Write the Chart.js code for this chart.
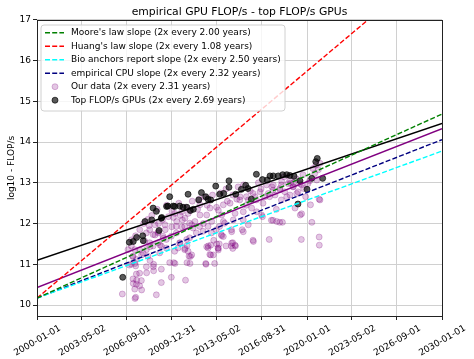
<!DOCTYPE html>
<html><head><meta charset="utf-8">
<script src="https://cdn.jsdelivr.net/npm/chart.js@4.4.0/dist/chart.umd.min.js"></script>
<style>html,body{margin:0;padding:0;background:#fff}#wrap{width:474px;height:359px}</style>
</head><body><div id="wrap"><canvas id="c" width="474" height="359"></canvas></div>
<script>
// ---------------- data ----------------
const titleText = 'empirical GPU FLOP/s - top FLOP/s GPUs';
const yAxisLabel = 'log10 - FLOP/s';
const xTickLabels = ['2000-01-01','2003-05-02','2006-09-01','2009-12-31','2013-05-02','2016-08-31','2020-01-01','2023-05-02','2026-09-01','2030-01-01'];
const yTickValues = [10, 11, 12, 13, 14, 15, 16, 17];
const yMin = 9.73, yMax = 17;

const fitYears   = [2000, 2030];
const mooreLine  = [10.17, 14.69];
const huangLine  = [10.17, 18.53];
const bioLine    = [10.17, 13.78];
const cpuLine    = [10.17, 14.06];
const ourFitLine = [10.43, 14.33];
const topFitLine = [11.10, 14.46];

const legendLabels = [
  "Moore's law slope (2x every 2.00 years)",
  "Huang's law slope (2x every 1.08 years)",
  "Bio anchors report slope (2x every 2.50 years)",
  "empirical CPU slope (2x every 2.32 years)",
  "Our data (2x every 2.31 years)",
  "Top FLOP/s GPUs (2x every 2.69 years)"
];

const ourYears = [
2006.32,2007.31,2008.84,2009.21,2009.95,2011.0,2007.36,2007.6,2007.24,2007.73,2007.11,2007.36,2007.6,2006.99,2007.31,2008.1,2008.64,2009.21,2008.64,2009.83,
2010.13,2011.11,2011.26,2011.19,2010.94,2011.11,2012.5,2013.16,2012.8,2012.67,2013.41,2013.09,2014.5,2014.7,2014.4,2014.0,2015.2,2016.0,2017.2,2019.58,
2020.9,2020.36,2019.5,2020.26,2020.9,2017.98,2018.18,2017.36,2017.48,2016.7,2017.73,2018.1,2018.5,2019.33,2019.9,2020.07,2020.57,2020.44,
2007.38,2007.13,2007.75,2007.26,2008.12,2008.62,2008.37,2010.22,2006.84,2007.26,2007.09,2007.75,2008.37,2009.11,2009.36,2010.59,2010.96,2011.09,2008.74,2008.99,
2013.68,2013.8,2013.31,2013.5,2012.87,2012.69,2012.87,2013.06,2012.52,2013.43,2014.42,2014.67,2014.5,2015.28,2016.03,2011.46,2011.33,2014.42,
2017.76,2019.6,2019.24,2018.99,2018.79,2018.13,2018.0,2017.5,2017.63,2018.74,2019.11,2020.72,2020.84,2020.96,
2016.27,2016.64,2015.9,2015.28,2014.67,2015.04,2015.65,2016.15,2016.52,2016.89,2017.13,2014.3,2013.8,2013.43,2012.81,2012.57,2012.07,2011.7,2012.32,2012.94,
2013.8,2015.28,2013.68,2014.54,2015.65,2011.46,2012.07,2011.33,
2009.73,2010.22,2010.72,2010.96,2010.35,2009.48,2009.98,2010.72,2008.74,
2007.61,2008.1,2008.35,2008.6,2008.97,2007.98,2008.35,2008.6,2008.97,2009.58,2009.33,2009.95,2010.32,2010.32,2010.77,2010.94,2011.31,2011.56,2012.05,2011.8,
2012.3,2011.31,2012.67,2012.92,2013.28,2013.53,2013.65,2013.9,2014.4,2007.61,2007.85,2008.1,2008.22,2009.09,2009.21,2009.58,2010.2,2010.45,2010.57,2007.11,
2007.36,2007.24,2006.99,2006.74,
2015.02,2015.51,2016.0,2016.25,2016.74,2017.23,2017.48,2017.98,2018.35,2018.6,2018.96,2019.46,2019.75,2018.72,2019.21,
2020.67,2020.96,2019.6,2020.91,2012.57,2013.43,2011.36,
2008.5,2008.9,2009.3,2009.6,2010.0,2010.5,2011.0,2011.5,2012.0,2012.4,2013.0,2013.6,2014.0,2014.5,2014.9,2015.3,2015.8,2016.4,2017.0,2018.3,
2019.7,2020.2,2007.9,2008.2,2007.3,2007.0,
2008.3,2009.0,2009.5,2010.1,2010.6,2011.2,2011.9,2012.6,2013.3,2014.1,2014.8,2015.5,2016.6,2017.4,2018.1,2019.0
];
const ourFlops = [
10.27,10.19,10.25,10.55,10.68,10.61,10.51,10.47,10.39,10.6,10.64,10.76,10.78,11.0,10.96,10.94,10.84,10.88,11.0,11.04,
11.04,11.04,11.2,11.32,11.36,11.46,11.02,11.02,11.24,11.4,11.4,11.59,11.53,11.45,11.45,11.45,11.85,11.59,11.61,11.61,
11.67,12.03,12.21,12.46,12.6,12.03,12.03,12.08,12.08,12.17,12.35,12.58,12.66,12.78,12.66,12.98,13.23,13.35,
10.61,10.53,10.37,10.16,10.79,10.94,11.09,11.02,10.98,11.02,11.19,11.23,11.43,11.47,11.64,11.52,11.39,11.61,11.72,11.8,
11.70,11.68,11.5,11.5,11.47,11.45,11.23,11.23,11.0,11.39,11.52,11.47,11.39,11.8,11.56,11.23,11.02,11.8,
12.05,12.95,12.74,12.91,12.99,13.03,12.83,12.95,12.7,12.7,12.38,13.07,13.32,13.48,
12.29,12.21,12.38,12.29,12.25,12.66,12.58,12.66,12.78,12.66,12.74,12.5,12.46,12.33,12.38,12.21,12.21,12.05,12.0,12.05,
12.05,12.09,12.21,12.09,11.97,11.97,12.46,12.33,
12.17,12.25,12.29,12.13,12.05,11.97,11.92,11.92,11.97,
11.85,11.77,11.85,11.73,11.77,11.57,11.53,11.45,11.53,11.61,11.69,11.69,11.77,11.93,12.09,11.93,12.01,11.89,11.93,11.77,
11.81,11.65,11.93,11.77,11.85,11.93,11.73,12.01,11.85,11.36,11.28,11.36,11.2,11.28,11.45,11.4,11.32,11.4,11.53,11.2,
11.12,11.36,11.45,11.36,
12.58,12.66,12.74,12.58,12.5,12.66,12.82,12.86,12.78,12.98,12.9,12.98,12.86,13.06,13.1,
13.44,12.58,12.24,11.47,11.43,11.35,11.19,
12.2,12.35,12.1,12.45,12.3,12.5,12.4,12.55,12.6,12.65,12.7,12.75,12.85,12.7,12.9,12.95,12.8,13.0,12.95,13.15,
13.2,13.05,12.0,12.1,11.7,11.6,
11.95,12.0,11.85,12.15,12.2,12.25,12.35,12.45,12.4,12.55,12.6,12.45,12.85,12.9,12.95,13.0
];

const topYears = [
2006.35,2006.84,2007.13,2007.38,2007.83,2007.87,2008.0,2008.5,2009.04,2009.21,2008.6,2008.84,2009.83,2009.7,2010.2,2010.57,2010.82,2011.1,2011.36,2011.19,
2011.98,2012.18,2012.5,2012.67,2012.87,2013.24,2013.53,2013.83,2014.22,2014.22,2014.72,2015.14,2015.46,2015.63,2015.88,2016.25,2016.7,2017.06,2017.26,2017.5,
2017.87,2018.2,2018.5,2018.74,2019.04,2019.48,2019.33,2020.0,2020.35,2020.65,2020.76,2021.16,2011.58,2009.24,2009.6,2010.1
];
const topFlops = [
10.68,11.54,11.56,11.66,11.70,11.58,12.05,12.09,11.83,12.13,12.38,12.30,12.66,12.43,12.42,12.43,12.40,12.40,12.32,12.72,
12.58,12.76,12.66,12.60,12.58,12.92,12.72,12.74,13.05,12.89,12.72,12.84,12.94,12.86,12.60,13.21,13.08,13.07,13.17,13.17,
13.17,13.20,13.20,13.18,13.16,13.05,12.48,12.84,13.11,13.52,13.60,13.11,12.35,12.15,12.42,12.43
];

// ---------------- helpers ----------------
function dateToYear(s){
  const [y,m,d] = s.split('-').map(Number);
  const t0 = Date.UTC(y,0,1), t1 = Date.UTC(y+1,0,1);
  return y + (Date.UTC(y,m-1,d) - t0) / (t1 - t0);
}
const xTickValues = xTickLabels.map(dateToYear);
const pts = (xs, ys) => xs.map((x,i)=>({x, y: ys[i]}));

const FONT = 'DejaVu Sans';
Chart.defaults.font.family = FONT;
Chart.defaults.color = '#000';

function lineDs(label, vals, color, dashed, inLegend){
  return {
    type:'line', label, data: pts(fitYears, vals), borderColor: color, backgroundColor: color,
    borderWidth: 1.4, borderDash: dashed ? [5,2.2] : [], pointRadius: 0, showLine: true,
    fill: false, order: 0, clip: 0, inLegend
  };
}

const datasets = [
  lineDs(legendLabels[0], mooreLine, 'green', true, true),
  lineDs(legendLabels[1], huangLine, 'red', true, true),
  lineDs(legendLabels[2], bioLine, 'cyan', true, true),
  lineDs(legendLabels[3], cpuLine, 'navy', true, true),
  lineDs('our fit', ourFitLine, 'purple', false, false),
  lineDs('top fit', topFitLine, 'black', false, false),
  { type:'scatter', label: legendLabels[4], data: pts(ourYears, ourFlops),
    backgroundColor:'rgba(128,0,128,0.22)', borderColor:'rgba(128,0,128,0.25)', borderWidth:1,
    pointRadius:3, order:3, inLegend:true, clip: 0 },
  { type:'scatter', label: legendLabels[5], data: pts(topYears, topFlops),
    backgroundColor:'rgba(0,0,0,0.65)', borderColor:'rgba(0,0,0,0.65)', borderWidth:1,
    pointRadius:3, order:2, inLegend:true, clip: 0 }
];

const framePlugin = {
  id:'frame',
  afterDatasetsDraw(chart){
    const {ctx, chartArea:a} = chart;
    ctx.save();
    ctx.strokeStyle = '#222'; ctx.lineWidth = 1;
    ctx.strokeRect(Math.round(a.left)+0.5, Math.round(a.top)+0.5, Math.round(a.right-a.left), Math.round(a.bottom-a.top));
    ctx.restore();
  }
};

const legendPlugin = {
  id:'boxLegend',
  afterDraw(chart){
    const {ctx} = chart;
    const bx = 41, by = 25, bw = 244, bh = 86, r = 3;
    ctx.save();
    ctx.beginPath();
    ctx.moveTo(bx+r, by); ctx.lineTo(bx+bw-r, by); ctx.arcTo(bx+bw, by, bx+bw, by+r, r);
    ctx.lineTo(bx+bw, by+bh-r); ctx.arcTo(bx+bw, by+bh, bx+bw-r, by+bh, r);
    ctx.lineTo(bx+r, by+bh); ctx.arcTo(bx, by+bh, bx, by+bh-r, r);
    ctx.lineTo(bx, by+r); ctx.arcTo(bx, by, bx+r, by, r); ctx.closePath();
    ctx.fillStyle = 'rgba(255,255,255,0.8)'; ctx.fill();
    ctx.strokeStyle = '#d0d0d0'; ctx.lineWidth = 1; ctx.stroke();
    ctx.font = '9px "' + FONT + '"';
    ctx.textBaseline = 'middle'; ctx.textAlign = 'left'; ctx.fillStyle = '#000';
    const items = chart.data.datasets.filter(d => d.inLegend);
    items.forEach((d, i) => {
      const y = 32.7 + i * 13.5;
      if (d.type === 'line') {
        ctx.save();
        ctx.strokeStyle = d.borderColor; ctx.lineWidth = d.borderWidth; ctx.setLineDash(d.borderDash);
        ctx.beginPath(); ctx.moveTo(45, y); ctx.lineTo(64, y); ctx.stroke();
        ctx.restore();
      } else {
        ctx.beginPath(); ctx.arc(55, y, 3, 0, Math.PI*2);
        ctx.fillStyle = d.backgroundColor; ctx.fill();
        ctx.strokeStyle = d.borderColor; ctx.lineWidth = 1; ctx.stroke();
        ctx.fillStyle = '#000';
      }
      ctx.fillText(d.label, 71, y);
    });
    ctx.restore();
  }
};

new Chart(document.getElementById('c'), {
  type: 'scatter',
  data: { datasets },
  options: {
    responsive: false, animation: false, devicePixelRatio: 1,
    layout: { padding: { left: 0, right: 32, top: 0, bottom: 0 } },
    plugins: {
      legend: { display: false },
      tooltip: { enabled: false },
      title: { display: true, text: titleText, fullSize: false,
               font: { size: 10.8, weight: 'normal', family: FONT }, color:'#000',
               padding: { top: 6, bottom: 1 } }
    },
    scales: {
      x: {
        type: 'linear', min: 2000, max: 2030,
        afterBuildTicks: s => { s.ticks = xTickValues.map(v => ({ value: v })); },
        afterFit: s => { s.height = 43; s.paddingLeft = 0; s.paddingRight = 0; },
        ticks: { callback: (v, i) => xTickLabels[i], minRotation: 30, maxRotation: 30,
                 autoSkip: false, font: { size: 9 }, color:'#000', labelOffset: 23, padding: 3 },
        grid: { color: '#d0d0d0', lineWidth: 1, tickLength: 4, tickColor: '#222' },
        border: { display: false }
      },
      y: {
        type: 'linear', min: yMin, max: yMax,
        afterBuildTicks: s => { s.ticks = yTickValues.map(v => ({ value: v })); },
        afterFit: s => { s.width = 37; s.paddingTop = 0; s.paddingBottom = 0; },
        ticks: { font: { size: 9 }, color:'#000', padding: 2, callback: v => String(v) },
        grid: { color: '#d0d0d0', lineWidth: 1, tickLength: 4, tickColor: '#222' },
        border: { display: false },
        title: { display: true, text: yAxisLabel, font: { size: 9 }, color:'#000', padding: { top: 6, bottom: 0 } }
      }
    }
  },
  plugins: [framePlugin, legendPlugin]
});
</script>
</body></html>
